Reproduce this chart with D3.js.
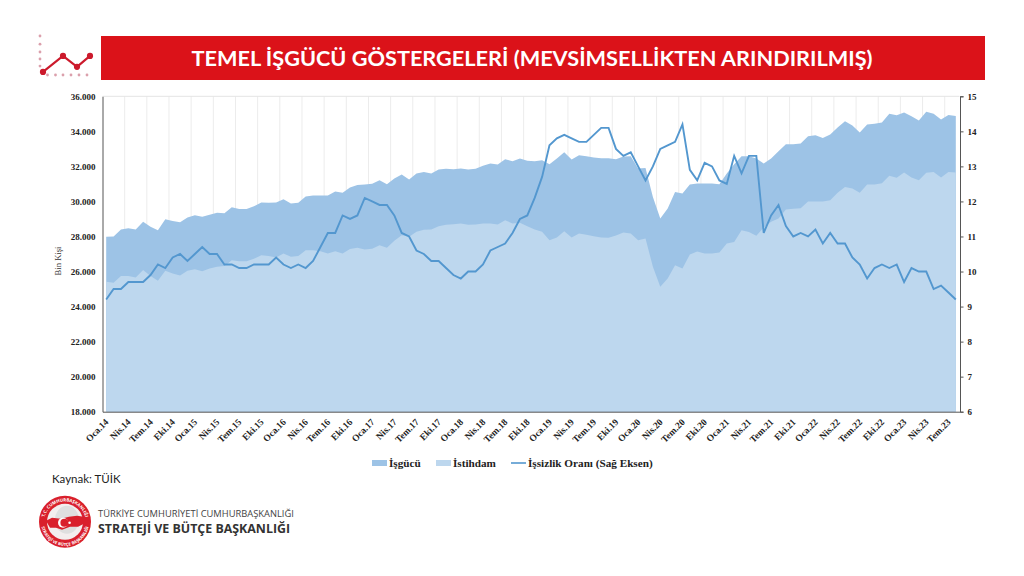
<!DOCTYPE html>
<html lang="tr">
<head>
<meta charset="utf-8">
<title>Temel İşgücü Göstergeleri</title>
<script src="https://cdn.jsdelivr.net/npm/d3@7"></script>
<style>
  html, body { margin: 0; padding: 0; background: #fff; }
  svg { display: block; }
  .serif { font-family: "Liberation Serif", serif; font-weight: bold; fill: #222; }
  .axis path, .axis line { stroke: #555; }
  .axis text { font-family: "Liberation Serif", serif; font-weight: bold; font-size: 9px; fill: #222; }
</style>
</head>
<body>
<div id="chart"></div>
<script>
const months = [
  "Oca.14","Şub.14","Mar.14","Nis.14","May.14","Haz.14","Tem.14","Ağu.14","Eyl.14","Eki.14","Kas.14","Ara.14",
  "Oca.15","Şub.15","Mar.15","Nis.15","May.15","Haz.15","Tem.15","Ağu.15","Eyl.15","Eki.15","Kas.15","Ara.15",
  "Oca.16","Şub.16","Mar.16","Nis.16","May.16","Haz.16","Tem.16","Ağu.16","Eyl.16","Eki.16","Kas.16","Ara.16",
  "Oca.17","Şub.17","Mar.17","Nis.17","May.17","Haz.17","Tem.17","Ağu.17","Eyl.17","Eki.17","Kas.17","Ara.17",
  "Oca.18","Şub.18","Mar.18","Nis.18","May.18","Haz.18","Tem.18","Ağu.18","Eyl.18","Eki.18","Kas.18","Ara.18",
  "Oca.19","Şub.19","Mar.19","Nis.19","May.19","Haz.19","Tem.19","Ağu.19","Eyl.19","Eki.19","Kas.19","Ara.19",
  "Oca.20","Şub.20","Mar.20","Nis.20","May.20","Haz.20","Tem.20","Ağu.20","Eyl.20","Eki.20","Kas.20","Ara.20",
  "Oca.21","Şub.21","Mar.21","Nis.21","May.21","Haz.21","Tem.21","Ağu.21","Eyl.21","Eki.21","Kas.21","Ara.21",
  "Oca.22","Şub.22","Mar.22","Nis.22","May.22","Haz.22","Tem.22","Ağu.22","Eyl.22","Eki.22","Kas.22","Ara.22",
  "Oca.23","Şub.23","Mar.23","Nis.23","May.23","Haz.23","Tem.23","Ağu.23"
];

const isgucu = [
  27980,28000,28400,28475,28400,28835,28550,28360,28990,28890,28815,29080,
  29215,29120,29235,29350,29330,29670,29575,29575,29730,29940,29920,29940,
  30130,29880,29920,30280,30340,30340,30340,30565,30490,30800,30945,30965,
  31005,31210,30985,31305,31535,31250,31590,31685,31590,31820,31860,31840,
  31875,31820,31860,32030,32160,32105,32410,32295,32445,32315,32295,32350,
  32125,32445,32810,32390,32635,32580,32505,32465,32465,32410,32560,32580,
  31875,31915,30260,29025,29600,30545,30450,30965,31020,31020,31020,30985,
  31590,32125,32580,32580,32445,32160,32445,32865,33265,33265,33300,33720,
  33775,33625,33815,34215,34575,34330,33930,34385,34440,34500,35010,34915,
  35070,34860,34615,35125,35010,34670,34935,34880
];

const istihdam = [
  25415,25360,25740,25740,25660,26080,25740,25470,26040,25890,25775,26040,
  26135,26020,26175,26270,26310,26650,26590,26590,26725,26935,26880,26800,
  27030,26840,26880,27220,27220,27160,27030,27160,27030,27290,27355,27260,
  27300,27505,27355,27755,28075,27980,28265,28380,28400,28590,28665,28705,
  28740,28665,28685,28740,28740,28685,28930,28740,28780,28590,28400,28265,
  27790,27945,28305,27945,28170,28095,28020,27945,27925,28060,28230,28170,
  27790,27885,26270,25130,25605,26365,26175,26975,27145,27030,27030,27090,
  27600,27680,28360,28250,28040,28515,28835,29025,29540,29580,29615,29995,
  29995,29995,30070,30490,30830,30735,30490,30965,30965,31040,31460,31345,
  31650,31365,31210,31630,31685,31365,31685,31650
];

const issizlik = [
  9.2,9.5,9.5,9.7,9.7,9.7,9.9,10.2,10.1,10.4,10.5,10.3,
  10.5,10.7,10.5,10.5,10.2,10.2,10.1,10.1,10.2,10.2,10.2,10.4,
  10.2,10.1,10.2,10.1,10.3,10.7,11.1,11.1,11.6,11.5,11.6,12.1,
  12.0,11.9,11.9,11.6,11.1,11.0,10.6,10.5,10.3,10.3,10.1,9.9,
  9.8,10.0,10.0,10.2,10.6,10.7,10.8,11.1,11.5,11.6,12.1,12.7,
  13.6,13.8,13.9,13.8,13.7,13.7,13.9,14.1,14.1,13.5,13.3,13.4,
  13.0,12.6,13.0,13.5,13.6,13.7,14.2,12.9,12.6,13.1,13.0,12.6,
  12.5,13.3,12.8,13.3,13.3,11.1,11.6,11.9,11.3,11.0,11.1,11.0,
  11.2,10.8,11.1,10.8,10.8,10.4,10.2,9.8,10.1,10.2,10.1,10.2,
  9.7,10.1,10.0,10.0,9.5,9.6,9.4,9.2
];

const leftTicks = [18000,20000,22000,24000,26000,28000,30000,32000,34000,36000];
const rightTicks = [6,7,8,9,10,11,12,13,14,15];
const titleText = "TEMEL İŞGÜCÜ GÖSTERGELERİ (MEVSİMSELLİKTEN ARINDIRILMIŞ)";

const svg = d3.select("#chart").append("svg").attr("width", 1024).attr("height", 576);

// header
svg.append("rect").attr("x", 101).attr("y", 36).attr("width", 884).attr("height", 44).attr("fill", "#db1219");
svg.append("text").text(titleText)
  .attr("x", 532).attr("y", 65.5).attr("text-anchor", "middle")
  .attr("font-family", "Lato").attr("font-weight", "bold").attr("font-size", 21.7).attr("fill", "#fff");

// little icon left of the header
const iconX = d3.scaleLinear().domain([0, 1]).range([40, 90]);
const iconY = d3.scaleLinear().domain([0, 1]).range([75, 36]);
const iconLine = [[0.06, 0.08], [0.46, 0.49], [0.74, 0.21], [1, 0.49]];
const iconDotsV = [0.23, 0.41, 0.59, 0.79, 1];
const iconDotsH = [0.15, 0.31, 0.46, 0.62, 0.78, 0.94];
svg.selectAll(".dv").data(iconDotsV).enter().append("circle")
  .attr("cx", iconX(0)).attr("cy", d => iconY(d)).attr("r", 1.4).attr("fill", "#dba0ac");
svg.selectAll(".dh").data(iconDotsH).enter().append("circle")
  .attr("cx", d => iconX(d)).attr("cy", iconY(0)).attr("r", 1.4).attr("fill", "#dba0ac");
svg.append("path").attr("d", d3.line().x(d => iconX(d[0])).y(d => iconY(d[1]))(iconLine))
  .attr("fill", "none").attr("stroke", "#cc1a2c").attr("stroke-width", 2.2);
svg.selectAll(".il").data(iconLine).enter().append("circle")
  .attr("cx", d => iconX(d[0])).attr("cy", d => iconY(d[1])).attr("r", 3.1).attr("fill", "#cc1a2c");

// scales
const x = d3.scaleBand().domain(months).range([102.5, 959.5]);
const yLeft = d3.scaleLinear().domain([18000, 36000]).range([411.7, 96.3]);
const yRight = d3.scaleLinear().domain([6, 15]).range([411.7, 96.3]);
const cx = i => x(months[i]) + x.bandwidth() / 2;

// grid
const gridMonths = months.filter((m, i) => i % 3 === 0 && i > 0);
svg.selectAll(".grid").data(gridMonths).enter().append("line")
  .attr("x1", d => x(d)).attr("x2", d => x(d))
  .attr("y1", yLeft(36000)).attr("y2", yLeft(18000))
  .attr("stroke", "#ececec").attr("stroke-width", 1);
svg.append("line").attr("x1", 102.5).attr("x2", 959.5)
  .attr("y1", yLeft(36000)).attr("y2", yLeft(36000)).attr("stroke", "#e4e4e4");

// areas and line
const area = d3.area().x((d, i) => cx(i)).y0(yLeft(18000)).y1(d => yLeft(d));
svg.append("path").attr("d", area(isgucu)).attr("fill", "#9dc3e6");
svg.append("path").attr("d", area(istihdam)).attr("fill", "#bdd7ee");
svg.append("path")
  .attr("d", d3.line().x((d, i) => cx(i)).y(d => yRight(d))(issizlik))
  .attr("fill", "none").attr("stroke", "#5397cf").attr("stroke-width", 1.9).attr("stroke-linejoin", "miter");

// axes
const fmt = d3.format(",");
const axisL = d3.axisLeft(yLeft).tickValues(leftTicks).tickSize(0).tickPadding(7)
  .tickFormat(d => fmt(d).replace(",", "."));
svg.append("g").attr("class", "axis").attr("transform", "translate(102.5,0)").call(axisL);

const axisR = d3.axisRight(yRight).tickValues(rightTicks).tickSize(3.5).tickPadding(4);
svg.append("g").attr("class", "axis").attr("transform", "translate(960,0)").call(axisR);

const axisB = d3.axisBottom(x).tickValues(months.filter((m, i) => i % 3 === 0)).tickSize(0);
const gx = svg.append("g").attr("class", "axis").attr("transform", "translate(0,411.7)").call(axisB);
gx.selectAll("text")
  .attr("text-anchor", "end")
  .attr("dx", 0).attr("dy", 0).attr("y", 0)
  .attr("transform", "translate(3,11) rotate(-45)")
  .style("font-size", "9.4px");

svg.append("text").text("Bin Kişi")
  .attr("transform", "translate(61,261) rotate(-90)").attr("text-anchor", "middle")
  .attr("font-family", "Liberation Serif").attr("font-size", 8.6).attr("fill", "#333");

// legend
const legendY = 463;
const legendItems = [
  { name: "İşgücü", sx: 372, color: "#9dc3e6" },
  { name: "İstihdam", sx: 436, color: "#bdd7ee" }
];
legendItems.forEach(l => {
  svg.append("rect").attr("x", l.sx).attr("y", legendY - 3).attr("width", 15).attr("height", 6).attr("fill", l.color);
  svg.append("text").attr("class", "serif").text(l.name).attr("x", l.sx + 17).attr("y", legendY + 3.5).attr("font-size", 11.2);
});
svg.append("line").attr("x1", 511).attr("x2", 526).attr("y1", legendY).attr("y2", legendY)
  .attr("stroke", "#5397cf").attr("stroke-width", 1.6);
svg.append("text").attr("class", "serif").text("İşsizlik Oranı (Sağ Eksen)")
  .attr("x", 528).attr("y", legendY + 3.5).attr("font-size", 11.2);

// source
svg.append("text").text("Kaynak: TÜİK").attr("x", 52).attr("y", 483)
  .attr("font-family", "Lato").attr("font-size", 11.5).attr("fill", "#222");

// logo
const logo = svg.append("g").attr("transform", "translate(65,521.8)");
logo.append("circle").attr("r", 26).attr("fill", "#d9202c");
logo.append("circle").attr("r", 18).attr("fill", "#f3eeee");
logo.append("ellipse").attr("cx", 2).attr("cy", -2).attr("rx", 12).attr("ry", 14).attr("fill", "#dfdfdf");
logo.append("path")
  .attr("d", "M-19,-1 L-13,-4 L-4,-3 L4,-5 L12,-6 L19,-5 L19,2 L13,5 L5,5 L-3,8 L-9,6 L-15,6 Z")
  .attr("fill", "#d9202c");
logo.append("circle").attr("cx", -2).attr("cy", 1).attr("r", 5).attr("fill", "#fff");
logo.append("circle").attr("cx", -0.6).attr("cy", 1).attr("r", 4).attr("fill", "#d9202c");
logo.append("circle").attr("cx", 4.6).attr("cy", 1).attr("r", 1.3).attr("fill", "#fff");
logo.append("path").attr("id", "ringTop").attr("d", "M-20.5,-4 A21,21 0 0 1 20.5,-4").attr("fill", "none");
logo.append("path").attr("id", "ringBottom").attr("d", "M-23.5,5 A24,24 0 0 0 23.5,5").attr("fill", "none");
logo.append("text").attr("font-family", "Open Sans").attr("font-weight", "bold").attr("font-size", 4.4).attr("fill", "#fff")
  .attr("text-anchor", "middle")
  .append("textPath").attr("href", "#ringTop").attr("startOffset", "50%").text("T.C. CUMHURBAŞKANLIĞI");
logo.append("text").attr("font-family", "Open Sans").attr("font-weight", "bold").attr("font-size", 4.2).attr("fill", "#fff")
  .attr("text-anchor", "middle")
  .append("textPath").attr("href", "#ringBottom").attr("startOffset", "50%").text("STRATEJİ VE BÜTÇE BAŞKANLIĞI");

svg.append("text").text("TÜRKİYE CUMHURİYETİ CUMHURBAŞKANLIĞI")
  .attr("x", 98).attr("y", 516.5).attr("font-family", "Open Sans").attr("font-size", 9.35).attr("fill", "#444");
svg.append("text").text("STRATEJİ VE BÜTÇE BAŞKANLIĞI")
  .attr("x", 98).attr("y", 532.5).attr("font-family", "Open Sans").attr("font-weight", "bold").attr("font-size", 12.4).attr("fill", "#333");
</script>
</body>
</html>
